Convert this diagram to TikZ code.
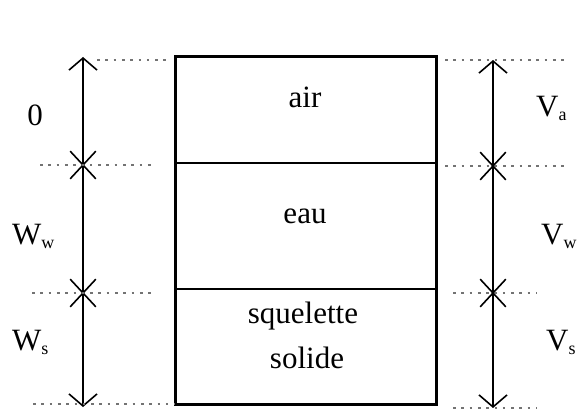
\documentclass[tikz,border=0pt]{standalone}
\usepackage{fontspec}
\setmainfont{Liberation Serif}
\usetikzlibrary{arrows.meta,shapes.misc}
\begin{document}
\begin{tikzpicture}[x=1pt,y=-1pt,
  font=\fontsize{31}{36}\selectfont,
  compart/.style={draw, line width=1.8pt, rectangle, inner sep=0pt, outer sep=0pt, minimum width=261pt},
  lbl/.style={inner sep=0pt, anchor=base},
  dim/.style={line width=1.6pt, {Straight Barb[length=12pt,width=28pt]}-{Straight Barb[length=12pt,width=28pt]}},
  xmark/.style={draw, cross out, line width=1.6pt, inner sep=0pt, minimum width=24pt, minimum height=26pt},
  guide/.style={draw=black!55, line width=1.5pt, dash pattern=on 2.6pt off 5.7pt}]
\useasboundingbox (0,0) rectangle (581,412);
% compartments
\node[compart, minimum height=106pt] (cair) at (305.5,110) {};
\node[compart, minimum height=126pt] (ceau) at (305.5,226) {};
\node[compart, minimum height=115pt] (csol) at (305.5,346.5) {};
\draw[line width=3pt] (cair.north west) rectangle (csol.south east);
% texts in box
\node[lbl] (tair) at (305,107) {air};
\node[lbl] (teau) at (305,223) {eau};
\node[lbl] (tsq) at (303,323) {squelette};
\node[lbl] (tso) at (307,368) {solide};
% left dimension
\coordinate (Ltop) at (83,57);
\coordinate (Lbot) at (83,407);
\draw[dim] (Ltop) -- (Lbot);
\node[xmark] (L1) at (83,165) {};
\node[xmark] (L2) at (83,293) {};
% right dimension
\coordinate (Rtop) at (493,60);
\coordinate (Rbot) at (493,408);
\draw[dim] (Rtop) -- (Rbot);
\node[xmark] (R1) at (493,166) {};
\node[xmark] (R2) at (493,293) {};
% guide lines
\coordinate (g1a) at (97,60);  \coordinate (g1b) at (170,60);
\coordinate (g2a) at (40,165); \coordinate (g2b) at (152,165);
\coordinate (g3a) at (32,293); \coordinate (g3b) at (153,293);
\coordinate (g4a) at (33,404); \coordinate (g4b) at (175,404);
\coordinate (h1a) at (445,60); \coordinate (h1b) at (567,60);
\coordinate (h2a) at (445,166); \coordinate (h2b) at (567,166);
\coordinate (h3a) at (453,293); \coordinate (h3b) at (537,293);
\coordinate (h4a) at (453,408); \coordinate (h4b) at (537,408);
\draw[guide] (g1a) -- (g1b);
\draw[guide] (g2a) -- (g2b);
\draw[guide] (g3a) -- (g3b);
\draw[guide] (g4a) -- (g4b);
\draw[guide] (h1a) -- (h1b);
\draw[guide] (h2a) -- (h2b);
\draw[guide] (h3a) -- (h3b);
\draw[guide] (h4a) -- (h4b);
% labels
\newcommand{\sbs}[1]{\raisebox{-4pt}{\fontsize{18}{18}\selectfont #1}}
\node[lbl, anchor=base] (l0) at (35,125) {0};
\node[lbl, anchor=base west] (lWw) at (12,244) {W\sbs{w}};
\node[lbl, anchor=base west] (lWs) at (12,350) {W\sbs{s}};
\node[lbl, anchor=base west] (lVa) at (536,116) {V\sbs{a}};
\node[lbl, anchor=base west] (lVw) at (541,244) {V\sbs{w}};
\node[lbl, anchor=base west] (lVs) at (546,350) {V\sbs{s}};
\end{tikzpicture}
\end{document}
